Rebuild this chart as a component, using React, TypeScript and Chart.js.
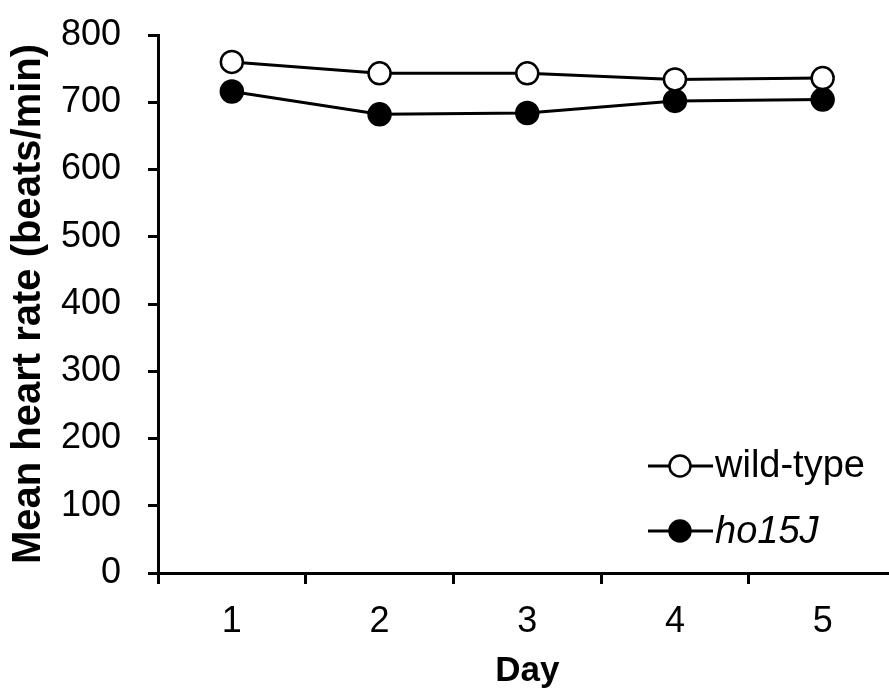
import React, { useEffect, useRef } from "react";
import { Chart, registerables } from "chart.js";

Chart.register(...registerables);

const days = ["1", "2", "3", "4", "5"];
const wildType = [760, 743, 743, 734, 736];
const ho15J = [716, 682, 684, 702, 704];
const yTicks = [0, 100, 200, 300, 400, 500, 600, 700, 800];
const seriesNames = ["wild-type", "ho15J"];

const FONT = "'Liberation Sans', Arial, sans-serif";

const legendPlugin = {
  id: "customLegend",
  afterDraw(chart: any) {
    const { ctx, chartArea } = chart;
    const rows = [
      { label: seriesNames[0], fill: "#ffffff", italic: false, y: chartArea.top + 431 },
      { label: seriesNames[1], fill: "#000000", italic: true, y: chartArea.top + 496 },
    ];
    const x0 = 648;
    const x1 = 713;
    const cx = 680;
    ctx.save();
    rows.forEach((r) => {
      ctx.strokeStyle = "#000";
      ctx.lineWidth = 3;
      ctx.beginPath();
      ctx.moveTo(x0, r.y);
      ctx.lineTo(x1, r.y);
      ctx.stroke();
      ctx.beginPath();
      ctx.arc(cx, r.y, 10.5, 0, Math.PI * 2);
      ctx.fillStyle = r.fill;
      ctx.fill();
      ctx.lineWidth = 2.5;
      ctx.stroke();
      ctx.fillStyle = "#000";
      ctx.font = `${r.italic ? "italic " : ""}38px ${FONT}`;
      ctx.textBaseline = "middle";
      ctx.textAlign = "left";
      ctx.fillText(r.label, 715, r.y + 1);
    });
    ctx.restore();
  },
};

export default function App() {
  const ref = useRef<HTMLCanvasElement | null>(null);
  useEffect(() => {
    if (!ref.current) return;
    const chart = new Chart(ref.current, {
      type: "line",
      data: {
        labels: days,
        datasets: [
          {
            label: seriesNames[0],
            data: wildType,
            borderColor: "#000",
            borderWidth: 3,
            pointRadius: 11,
            pointBorderWidth: 2.5,
            pointBackgroundColor: "#fff",
            pointBorderColor: "#000",
            tension: 0,
          },
          {
            label: seriesNames[1],
            data: ho15J,
            borderColor: "#000",
            borderWidth: 3,
            pointRadius: 11,
            pointBorderWidth: 2.5,
            pointBackgroundColor: "#000",
            pointBorderColor: "#000",
            tension: 0,
          },
        ],
      },
      options: {
        animation: false,
        responsive: false,
        maintainAspectRatio: false,
        layout: { padding: { top: 35, left: 0, right: 0, bottom: 0 } },
        plugins: { legend: { display: false }, tooltip: { enabled: false } },
        scales: {
          x: {
            type: "category",
            offset: true,
            grid: {
              offset: true,
              drawOnChartArea: false,
              drawTicks: true,
              tickLength: 11,
              tickWidth: 3,
              tickColor: "#000",
            },
            border: { display: true, color: "#000", width: 3 },
            ticks: {
              color: "#000",
              font: { family: FONT, size: 36 },
              padding: 16,
              maxRotation: 0,
            },
            title: {
              display: true,
              text: "Day",
              color: "#000",
              font: { family: FONT, size: 35, weight: "bold" },
              padding: { top: 0, bottom: 1 },
            },
            afterFit: (s: any) => {
              s.height = 120;
            },
          },
          y: {
            min: 0,
            max: 800,
            afterBuildTicks: (s: any) => {
              s.ticks = yTicks.map((v) => ({ value: v }));
            },
            grid: {
              drawOnChartArea: false,
              drawTicks: true,
              tickLength: 10,
              tickWidth: 3,
              tickColor: "#000",
            },
            border: { display: true, color: "#000", width: 3 },
            ticks: {
              color: "#000",
              font: { family: FONT, size: 36 },
              padding: 27,
            },
            title: {
              display: true,
              text: "Mean heart rate (beats/min)",
              color: "#000",
              font: { family: FONT, size: 40, weight: "bold" },
              padding: { top: 5, bottom: 0 },
            },
            afterFit: (s: any) => {
              s.width = 158;
              s.paddingTop = 0;
              s.paddingBottom = 0;
            },
          },
        },
      },
      plugins: [legendPlugin],
    });
    return () => chart.destroy();
  }, []);
  return (
    <div
      style={{
        position: "fixed",
        left: 0,
        top: 0,
        width: 889,
        height: 693,
        overflow: "hidden",
        background: "#fff",
      }}
    >
      <canvas ref={ref} width={910} height={693} style={{ display: "block" }} />
    </div>
  );
}
